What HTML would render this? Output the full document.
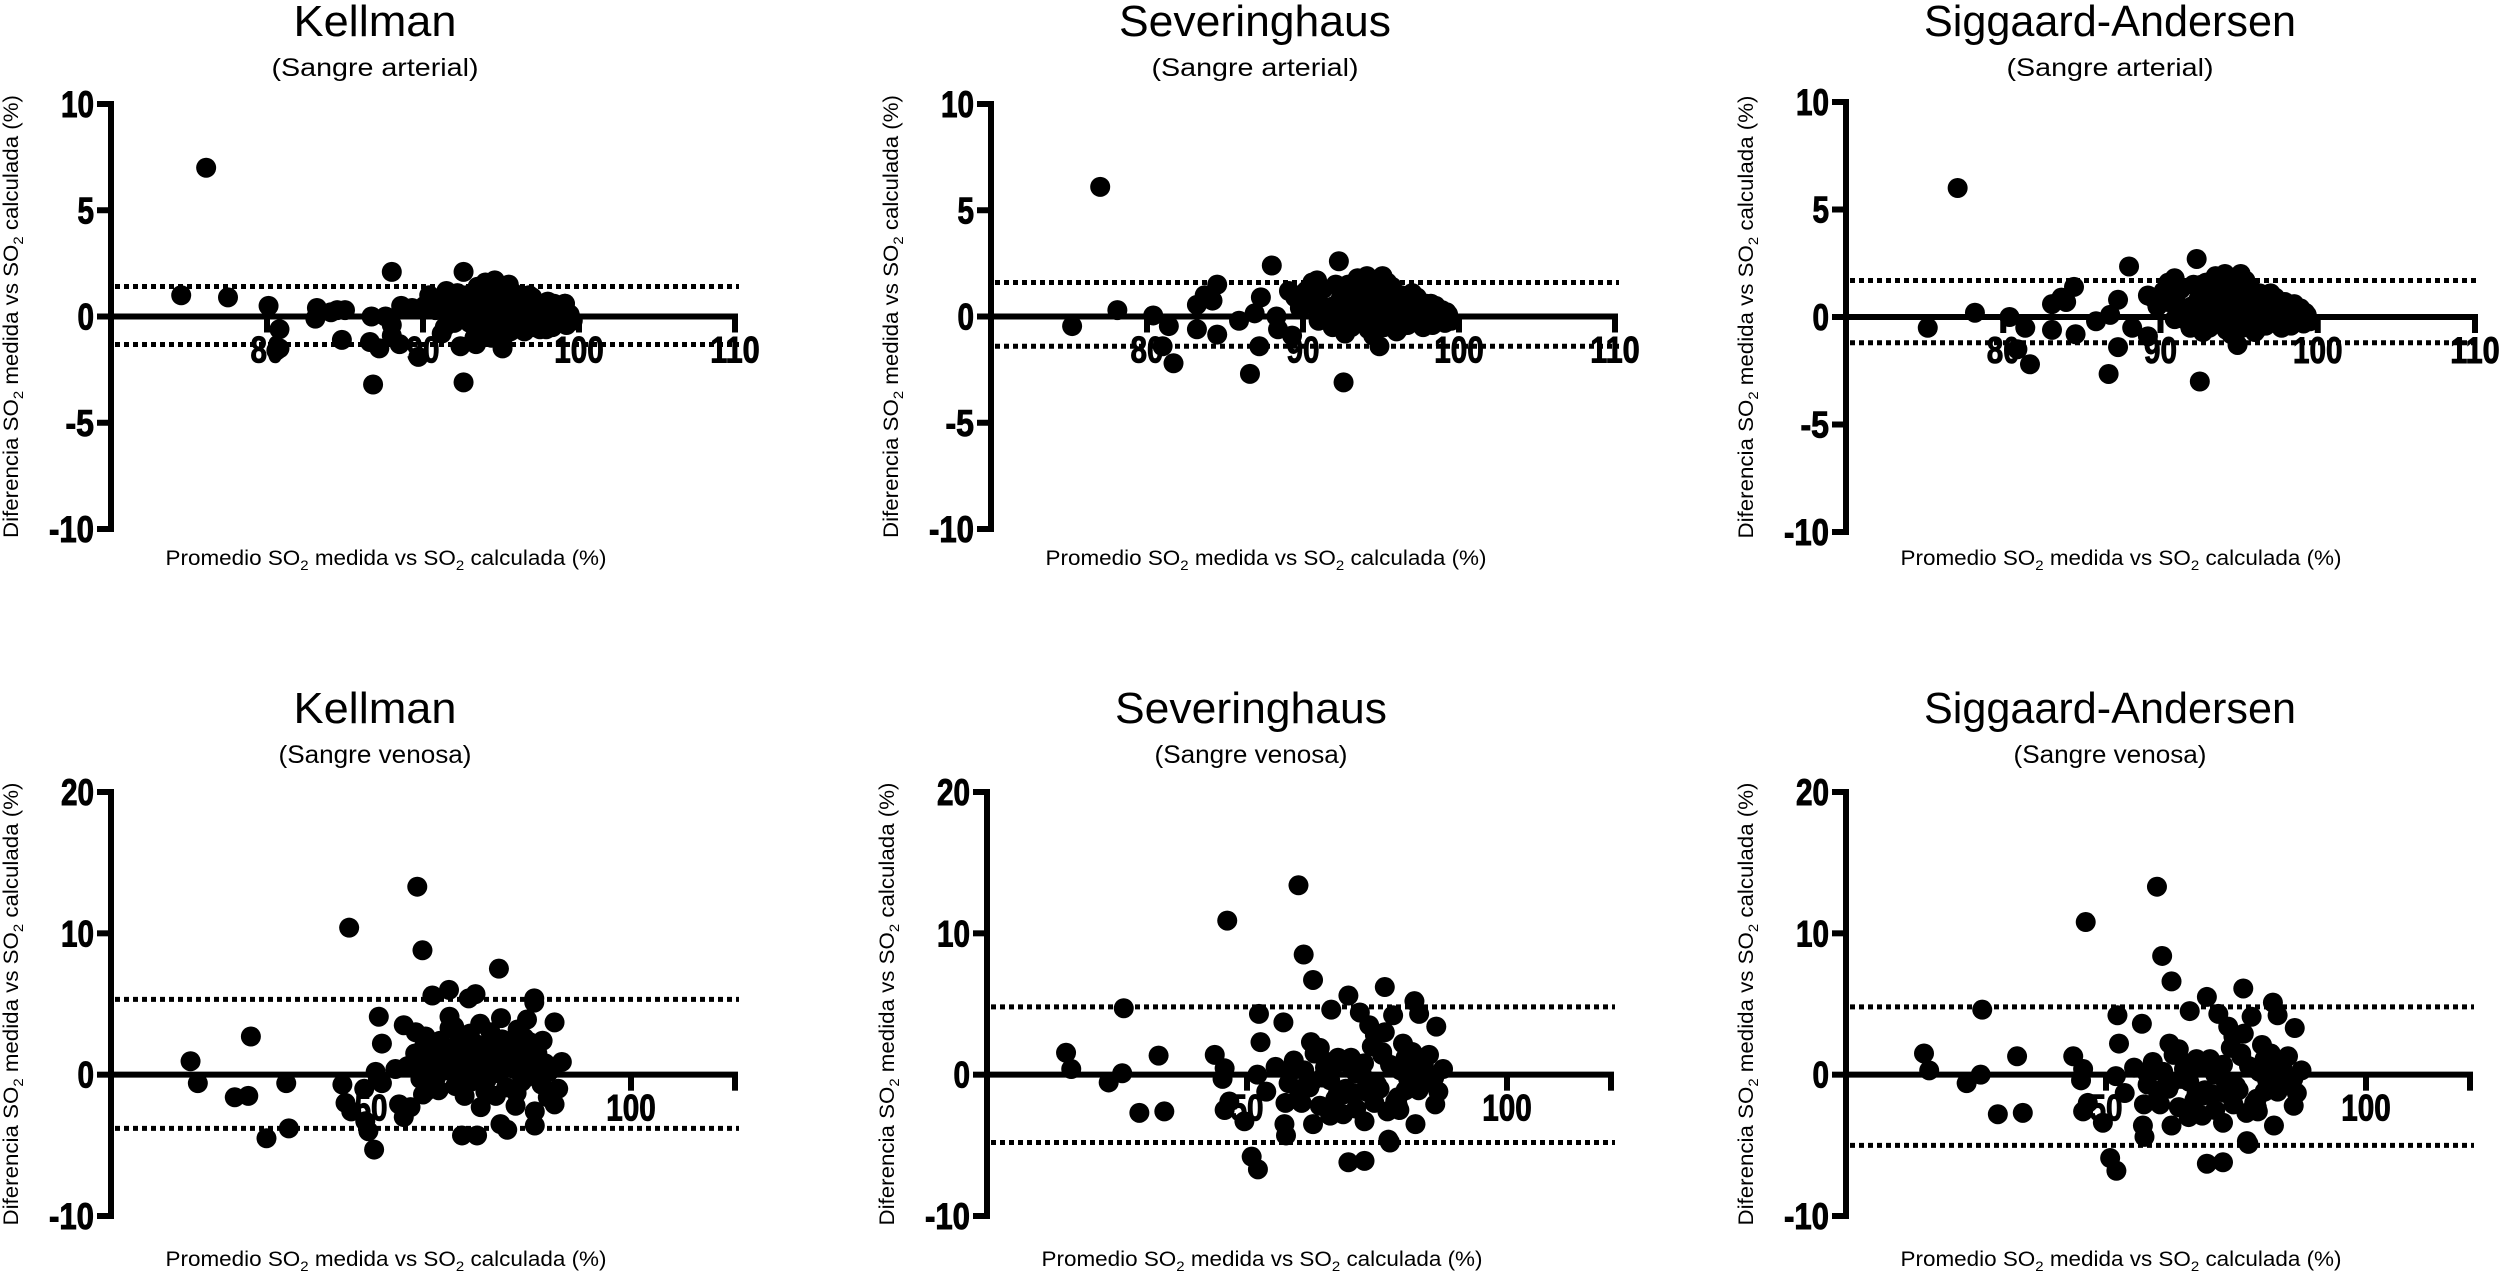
<!DOCTYPE html>
<html><head><meta charset="utf-8"><style>
html,body{margin:0;padding:0;background:#fff;}
svg{display:block;}
</style></head><body>
<svg id="fig" width="2500" height="1282" viewBox="0 0 2500 1282" xmlns="http://www.w3.org/2000/svg"></svg>
<script>
// ---- Data: Kellman arterial ----
const kaX = [74.5,76.1,77.5,80.1,80.8,80.8,80.6,83.1,83.2,84.1,84.5,85.0,84.8,86.6,86.7,86.8,87.2,87.6,88.0,88.0,88.0,88.6,88.5,89.3,89.7,90.1,90.4,90.8,91.5,91.2,92.0,92.4,92.6,92.6,92.8,93.0,93.3,
 93.5,93.8,93.6,93.7,94.0,94.2,94.3,94.1,94.4,94.6,94.8,94.9,95.0,95.1,95.3,95.5,95.4,95.6,95.8,96.0,96.2,96.4,96.5,96.7,96.9,97.1,97.3,97.5,97.7,98.0,98.2,98.4,98.6,98.8,99.0,99.2,99.4,99.6,92.7,93.2,92.0,91.7,93.0,93.4,91.0,91.4,92.2,93.9,94.7,95.7,96.3,97.0,97.9,98.5,99.1,
 93.6,94.0,94.5,94.9,95.2,95.6,96.0,96.4,96.8,97.2,97.6,98.0,98.4,98.8,93.9,94.3,94.7,95.1,95.5,95.9,96.3,96.7,97.1,97.5,97.9,98.3,98.7,99.1,99.5,93.3];
const kaY = [1.0,7.0,0.9,0.5,-0.6,-1.5,-1.6,-0.1,0.4,0.2,0.3,0.3,-1.1,-1.2,0.0,-3.2,-1.5,0.0,2.1,-0.4,-0.9,0.5,-1.3,0.4,-1.9,0.5,1.0,0.3,1.2,-0.8,0.5,-1.4,2.1,-3.1,1.0,-0.3,-1.0,
 1.4,0.8,0.2,-0.5,1.6,1.2,0.5,-0.2,-1.0,1.7,1.0,0.3,-0.4,-1.5,1.3,0.6,-0.1,-0.7,1.1,0.4,-0.3,0.9,-0.7,0.2,0.6,-0.5,0.1,0.4,-0.4,0.7,0.1,-0.3,0.5,-0.1,0.3,-0.4,0.1,-0.2,0.0,0.4,-0.3,0.2,0.9,-1.3,0.6,-0.5,1.1,-0.8,-0.9,1.0,-0.6,0.9,-0.6,0.0,0.6,
 0.6,-0.6,1.4,0.7,-0.9,1.2,-0.1,0.5,1.0,0.3,-0.2,0.2,0.6,-0.3,0.1,1.3,-0.3,0.9,1.5,-0.4,0.7,-0.2,0.5,-0.6,0.3,-0.5,0.2,0.6,-0.1,1.0];
const kaLimits = [1.41,-1.32];
// ---- Severinghaus arterial ----
const saX = [75.2,77.0,78.1,80.4,81.4,81.0,81.7,83.2,83.2,83.7,84.2,84.5,84.5,85.9,86.6,86.9,87.2,87.3,88.0,88.3,88.4,89.3,89.1,90.6,91.0,92.3,92.6,94.9,
 89.5,89.8,90.2,90.5,90.9,91.3,91.6,91.9,92.1,92.4,92.7,93.0,93.2,93.5,93.7,93.9,94.1,94.3,94.5,94.7,94.9,95.1,95.3,95.5,95.7,95.9,96.1,96.3,96.5,96.7,96.9,97.1,97.3,97.5,97.7,97.9,98.1,98.3,98.5,98.7,98.9,99.1,99.3,99.5,92.0,93.1,94.0,95.0,96.0,97.0,91.5,92.9,94.4,95.6,93.4,
 92.2,92.6,93.0,93.4,93.8,94.2,94.6,95.0,95.4,95.8,96.2,96.6,97.0,97.4,97.8,98.2,98.6,99.0,92.8,93.6,94.4,95.2,96.0,96.8,97.6,98.4,99.2,91.2,90.8,94.8];
const saY = [-0.45,6.1,0.3,0.05,-0.45,-1.4,-2.2,0.55,-0.6,1.0,0.75,1.5,-0.85,-0.2,-2.7,0.15,-1.4,0.9,2.4,0.0,-0.6,-0.9,1.2,1.6,-0.2,2.6,-3.1,-1.4,
 0.9,0.4,1.2,0.6,1.7,1.3,0.2,-0.5,1.5,0.8,-0.8,1.1,0.3,1.8,-0.2,0.9,1.9,0.5,-0.9,1.6,0.1,1.9,0.7,-0.3,1.4,0.2,-0.6,1.0,0.4,-0.4,0.7,-0.2,0.9,0.1,-0.5,0.6,0.0,-0.4,0.5,-0.1,0.3,-0.3,0.1,-0.2,0.5,-0.5,1.3,0.9,-0.7,0.3,-0.1,1.5,-0.3,0.4,1.0,
 0.2,1.4,-0.4,0.6,1.3,-0.6,1.1,0.5,1.6,0.0,0.8,-0.2,1.1,0.4,0.2,0.6,-0.2,0.1,0.9,0.1,1.5,-0.5,0.6,1.0,-0.3,0.3,0.2,0.5,1.0,0.6];
const saLimits = [1.6,-1.4];
// ---- Siggaard-Andersen arterial ----
const gaX = [75.2,77.1,78.2,80.4,81.4,80.9,81.7,83.1,83.1,83.7,84.0,84.5,84.6,85.9,86.7,86.8,87.3,87.3,88.0,88.2,89.2,89.2,90.5,90.9,92.3,92.5,94.9,
 89.5,89.8,90.2,90.5,90.9,91.3,91.6,91.9,92.1,92.4,92.7,93.0,93.2,93.5,93.7,93.9,94.1,94.3,94.5,94.7,94.9,95.1,95.3,95.5,95.7,95.9,96.1,96.3,96.5,96.7,96.9,97.1,97.3,97.5,97.7,97.9,98.1,98.3,98.5,98.7,98.9,99.1,99.3,99.5,92.0,93.1,94.0,95.0,96.0,97.0,91.5,92.9,94.4,95.6,93.4,
 92.2,92.6,93.0,93.4,93.8,94.2,94.6,95.0,95.4,95.8,96.2,96.6,97.0,97.4,97.8,98.2,98.6,99.0,92.8,93.6,94.4,95.2,96.0,96.8,97.6,98.4,99.2,91.2,90.8,94.8];
const gaY = [-0.5,6.0,0.2,0.0,-0.5,-1.5,-2.2,0.6,-0.6,0.9,0.7,1.4,-0.8,-0.2,-2.65,0.1,-1.4,0.8,2.35,-0.5,-0.9,1.0,1.6,-0.1,2.7,-3.0,-1.3,
 0.9,0.5,1.2,0.7,1.8,1.3,0.3,-0.5,1.5,0.8,-0.7,1.1,0.3,1.9,-0.2,1.0,2.0,0.5,-0.8,1.7,0.1,2.0,0.7,-0.3,1.4,0.2,-0.6,1.1,0.4,-0.4,0.8,-0.2,0.9,0.1,-0.5,0.7,0.0,-0.4,0.6,-0.1,0.4,-0.3,0.1,-0.2,0.5,-0.5,1.3,0.9,-0.7,0.3,-0.1,1.6,-0.3,0.4,1.0,
 0.2,1.5,-0.4,0.6,1.4,-0.6,1.2,0.5,1.7,0.0,0.8,-0.2,1.1,0.4,0.2,0.6,-0.2,0.1,0.9,0.1,1.6,-0.5,0.6,1.0,-0.3,0.3,0.2,0.5,1.1,0.6];
const gaLimits = [1.7,-1.2];
// ---- Kellman venous ----
const kvX = [15.3,16.7,23.8,26.4,26.9,29.9,33.7,34.2,44.5,45.1,45.8,46.2,48.7,48.9,49.5,50.6,50.9,51.5,52.1,52.1,54.7,55.4,56.3,56.3,57.6,58.9,58.6,59.9,60.5,61.8,65.0,65.1,65.1,68.8,70.1,74.6,71.1,67.5,70.4,74.9,76.2,81.4,81.4,80.0,85.3,86.7,86.0,85.3,81.5,81.5,80.3,79.0,77.8,
 57.0,58.5,59.5,60.2,61.0,61.8,62.5,63.3,64.0,64.8,65.5,66.2,67.0,67.8,68.5,69.2,70.0,70.8,71.5,72.2,73.0,73.8,74.5,75.2,76.0,76.8,77.5,78.2,79.0,79.8,80.5,81.2,82.0,82.8,83.5,84.2,60.0,63.0,66.0,69.0,72.0,75.0,78.0,81.0,84.0,62.0,68.0,74.0,77.0,71.0,
 59.0,61.5,64.5,67.5,70.5,73.5,76.5,79.5,82.5,85.0,60.5,63.5,66.5,69.5,72.5,75.5,78.5,83.0,65.8,73.2];
const kvY = [0.95,-0.6,-1.6,-1.5,2.7,-4.5,-0.6,-3.8,-0.7,-2.0,10.4,-2.6,-1.0,-3.3,-4.0,-5.3,0.2,4.1,2.2,-0.6,0.4,-2.1,-3.0,3.5,-2.3,13.3,3.0,8.8,-1.2,5.6,6.0,4.1,3.3,5.4,5.7,7.5,-2.3,-4.3,-4.3,-3.5,-3.9,5.4,5.1,3.9,3.7,0.9,-1.0,-2.1,-3.6,-2.6,2.1,-0.5,-2.2,
 0.6,1.5,-0.3,2.0,0.9,1.8,-0.2,2.4,1.1,0.3,1.9,-0.8,2.8,0.5,1.4,-0.5,2.2,0.8,1.6,-0.4,3.0,1.2,0.1,2.5,-0.9,1.7,0.4,3.2,1.0,-0.2,2.3,0.6,1.5,-0.7,0.8,0.2,-1.4,-1.1,3.4,2.9,-1.2,4.0,-1.3,1.9,-1.6,0.0,-1.5,-1.5,2.0,3.6,
 1.0,0.3,1.6,2.3,0.6,1.9,1.2,2.6,0.0,0.5,2.7,0.9,0.2,1.3,2.0,0.4,1.8,2.4,1.1,0.7];
const kvLimits = [5.33,-3.8];
// ---- Severinghaus venous ----
const svX = [15.2,16.2,23.4,26.0,26.3,29.3,33.0,34.1,43.8,45.7,45.3,46.2,45.7,46.6,49.5,50.9,52.1,52.0,52.3,52.6,53.7,55.5,57.0,57.2,57.5,57.4,58.0,59.9,60.5,60.9,62.7,62.7,62.3,63.2,66.0,66.2,67.5,67.5,69.5,69.5,71.7,72.6,72.6,74.6,76.5,77.2,77.5,78.1,79.3,82.2,83.1,82.4,81.8,86.4,86.2,86.8,87.7,84.0,
 58.0,59.0,60.0,61.0,62.0,63.0,64.0,65.0,66.0,67.0,68.0,69.0,70.0,71.0,72.0,73.0,74.0,75.0,76.0,77.0,78.0,79.0,80.0,81.0,82.0,83.0,84.0,85.0,70.5,72.5,74.5,76.5,78.5,80.5,64.5,66.5,68.5,73.5,75.5,79.5,
 59.5,62.5,65.5,68.5,71.5,74.5,77.5,80.5,83.5,86.0,61.0,64.0,67.0,70.0,73.0,76.0,79.0,82.0,85.0,71.0];
const svY = [1.55,0.4,-0.55,0.1,4.7,-2.7,1.35,-2.6,1.4,0.45,-0.3,10.9,-2.5,-1.9,-3.3,-5.8,-6.7,0.0,4.3,2.3,-1.2,0.55,3.7,-3.5,-4.3,-2.0,0.2,13.4,-2.0,8.5,6.7,-3.5,2.3,1.7,-2.9,4.6,1.2,-1.3,5.6,-6.2,4.4,-6.1,-3.3,2.8,6.2,-4.6,-4.8,4.2,-2.5,5.2,4.3,-3.5,1.6,3.4,-2.1,-1.2,0.4,0.7,
 -0.6,1.0,-1.5,0.3,-0.9,1.5,-2.2,0.5,-0.4,-1.8,0.9,-1.0,1.2,-2.4,0.2,-1.2,2.0,-0.7,1.4,-2.6,0.6,-1.6,2.2,-0.3,0.9,-1.1,0.3,-0.5,-1.3,0.8,-2.0,3.0,-1.9,1.2,-0.2,0.6,-2.8,3.5,-1.0,0.3,
 0.4,-0.5,0.9,-1.4,0.2,-0.6,0.7,-1.1,1.1,-0.2,-0.9,1.9,-1.7,0.6,-0.4,1.6,-2.2,-0.8,1.4,0.1];
const svLimits = [4.8,-4.8];
// ---- Siggaard-Andersen venous ----
const gvX = [15.0,16.0,23.2,25.9,26.2,29.2,32.9,34.0,43.7,45.6,45.2,46.1,45.6,46.5,49.4,50.8,52.0,51.9,52.2,52.5,53.6,55.4,56.9,57.1,57.4,57.3,57.9,59.8,60.4,60.8,62.6,62.6,62.2,63.1,65.9,66.1,67.4,67.4,69.4,69.4,71.6,72.5,72.5,74.5,76.4,77.1,77.4,78.0,79.2,82.1,83.0,82.3,81.7,86.3,86.1,86.7,87.6,83.9,
 58.0,59.0,60.0,61.0,62.0,63.0,64.0,65.0,66.0,67.0,68.0,69.0,70.0,71.0,72.0,73.0,74.0,75.0,76.0,77.0,78.0,79.0,80.0,81.0,82.0,83.0,84.0,85.0,70.5,72.5,74.5,76.5,78.5,80.5,64.5,66.5,68.5,73.5,75.5,79.5,
 59.5,62.5,65.5,68.5,71.5,74.5,77.5,80.5,83.5,86.0,61.0,64.0,67.0,70.0,73.0,76.0,79.0,82.0,85.0,71.0];
const gvY = [1.5,0.3,-0.6,0.0,4.6,-2.8,1.3,-2.7,1.3,0.4,-0.4,10.8,-2.6,-2.0,-3.4,-5.9,-6.8,-0.1,4.2,2.2,-1.3,0.5,3.6,-3.6,-4.4,-2.1,0.1,13.3,-2.1,8.4,6.6,-3.6,2.2,1.6,-3.0,4.5,1.1,-1.4,5.5,-6.3,4.3,-6.2,-3.4,2.7,6.1,-4.7,-4.9,4.1,-2.6,5.1,4.2,-3.6,1.5,3.3,-2.2,-1.3,0.3,0.6,
 -0.7,0.9,-1.6,0.2,-1.0,1.4,-2.3,0.4,-0.5,-1.9,0.8,-1.1,1.1,-2.5,0.1,-1.3,1.9,-0.8,1.3,-2.7,0.5,-1.7,2.1,-0.4,0.8,-1.2,0.2,-0.6,-1.4,0.7,-2.1,2.9,-2.0,1.1,-0.3,0.5,-2.9,3.4,-1.1,0.2,
 0.3,-0.6,0.8,-1.5,0.1,-0.7,0.6,-1.2,1.0,-0.3,-1.0,1.8,-1.8,0.5,-0.5,1.5,-2.3,-0.9,1.3,0.0];
const gvLimits = [4.8,-5.0];
// ---- Axis ticks ----
const artXTicks = [80,90,100,110];
const artYTicks = [-10,-5,0,5,10];
const venXTicks = [50,100];
const venYTicks = [-10,0,10,20];
const titles = ["Kellman","Severinghaus","Siggaard-Andersen"];
const subtitles = ["(Sangre arterial)","(Sangre venosa)"];

const NS = "http://www.w3.org/2000/svg";
const svg = document.getElementById('fig');
function mk(tag, attrs, parent){
  const e = document.createElementNS(NS, tag);
  for (const k in attrs) e.setAttribute(k, attrs[k]);
  (parent||svg).appendChild(e);
  return e;
}
const titleW = {"Kellman":163,"Severinghaus":272,"Siggaard-Andersen":372};
const subW = {"(Sangre arterial)":207,"(Sangre venosa)":193};

function panel(p){
  const g = mk('g', {});
  
  
  const sx = v => p.x0 + (v - p.xmin) / (p.xmax - p.xmin) * p.w;
  const sy = v => p.yTopPx + (p.ymax - v) / (p.ymax - p.ymin) * (p.yBotPx - p.yTopPx);
  const cx = p.x0 + 264;
  const t = mk('text', {x:cx, y:p.titleY, 'text-anchor':'middle', 'font-family':'"Liberation Sans", sans-serif', 'font-size':44, textLength:titleW[p.title], lengthAdjust:'spacingAndGlyphs'}, g);
  t.textContent = p.title;
  
  
  const st = mk('text', {x:cx, y:p.titleY+40, 'text-anchor':'middle', 'font-family':'"Liberation Sans", sans-serif', 'font-size':25, textLength:subW[p.sub], lengthAdjust:'spacingAndGlyphs'}, g);
  st.textContent = p.sub;
  
  
  const y0 = sy(0);
  const ya = mk('line', {x1:p.x0, x2:p.x0, y1:sy(p.ymax)-3, y2:sy(p.ymin)+3, stroke:'#000', 'stroke-width':6}, g);
  
  
  p.yTicks.forEach(v => {
    const yy = sy(v);
    mk('line', {x1:p.x0-14, x2:p.x0, y1:yy, y2:yy, stroke:'#000', 'stroke-width':6}, g);
    const s = String(v);
    const wdt = 16.5 * s.replace('-','').length + (v < 0 ? 12 : 0);
    const lb = mk('text', {x:p.x0-17, y:yy+13, 'text-anchor':'end', 'font-family':'"Liberation Sans", sans-serif', 'font-weight':'bold', 'font-size':37, stroke:'#000', 'stroke-width':1, textLength:wdt, lengthAdjust:'spacingAndGlyphs'}, g);
    lb.textContent = s;
    
    
  });
  const xa = mk('line', {x1:p.x0, x2:sx(p.xmax)+3, y1:y0, y2:y0, stroke:'#000', 'stroke-width':6}, g);
  
  
  mk('line', {x1:sx(p.xmax), x2:sx(p.xmax), y1:y0, y2:y0+16, stroke:'#000', 'stroke-width':6}, g);
  p.xTicks.forEach(v => {
    const xx = sx(v);
    mk('line', {x1:xx, x2:xx, y1:y0, y2:y0+16, stroke:'#000', 'stroke-width':6}, g);
    const s = String(v);
    const lb = mk('text', {x:xx, y:y0+46, 'text-anchor':'middle', 'font-family':'"Liberation Sans", sans-serif', 'font-weight':'bold', 'font-size':37, stroke:'#000', 'stroke-width':1, textLength:16.5*s.length, lengthAdjust:'spacingAndGlyphs'}, g);
    lb.textContent = s;
    
    
  });
  p.limits.forEach(v => {
    const l = mk('line', {x1:p.x0+4, x2:sx(p.xmax)+4, y1:sy(v), y2:sy(v), stroke:'#000', 'stroke-width':5, 'stroke-dasharray':'5 4'}, g);
    
    
  });
  const n = Math.min(p.xs.length, p.ys.length);
  for (let i = 0; i < n; i++) {
    const c = mk('circle', {cx:sx(p.xs[i]), cy:sy(p.ys[i]), r:10, fill:'#000'}, g);
    
    
  }
  const xt = mk('text', {x:p.x0+275, y:p.xTitleY, 'text-anchor':'middle', 'font-family':'"Liberation Sans", sans-serif', 'font-size':21, textLength:441, lengthAdjust:'spacingAndGlyphs'}, g);
  xt.innerHTML = 'Promedio SO<tspan font-size="14" dy="5">2</tspan><tspan dy="-5"> medida vs SO</tspan><tspan font-size="14" dy="5">2</tspan><tspan dy="-5"> calculada (%)</tspan>';
  
  
  const ymid = (p.yTopPx + p.yBotPx) / 2;
  const yx = p.x0 - 93;
  const yt = mk('text', {x:yx, y:ymid, transform:`rotate(-90 ${yx} ${ymid})`, 'text-anchor':'middle', 'font-family':'"Liberation Sans", sans-serif', 'font-size':21, textLength:443, lengthAdjust:'spacingAndGlyphs'}, g);
  yt.innerHTML = 'Diferencia SO<tspan font-size="14" dy="5">2</tspan><tspan dy="-5"> medida vs SO</tspan><tspan font-size="14" dy="5">2</tspan><tspan dy="-5"> calculada (%)</tspan>';
  
  
}

const cols = [111, 991, 1846];
const widths = [624, 624, 629];
const artSets = [[kaX,kaY,kaLimits],[saX,saY,saLimits],[gaX,gaY,gaLimits]];
const venSets = [[kvX,kvY,kvLimits],[svX,svY,svLimits],[gvX,gvY,gvLimits]];
for (let c = 0; c < 3; c++) {
  panel({name:'arterial-panel-'+(c+1), x0:cols[c], w:widths[c], xmin:70, xmax:110, ymin:-10, ymax:10,
    yTopPx: c===2?102:104, yBotPx: c===2?532:529, xTicks:artXTicks, yTicks:artYTicks,
    xs:artSets[c][0], ys:artSets[c][1], limits:artSets[c][2],
    title:titles[c], sub:subtitles[0], titleY:36, xTitleY:565});
  panel({name:'venous-panel-'+(c+1), x0:cols[c]+(c===1?-4:0), w:624, xmin:0, xmax:120, ymin:-10, ymax:20,
    yTopPx:792, yBotPx:1216, xTicks:venXTicks, yTicks:venYTicks,
    xs:venSets[c][0], ys:venSets[c][1], limits:venSets[c][2],
    title:titles[c], sub:subtitles[1], titleY:723, xTitleY:1266});
}
</script>
</body></html>
